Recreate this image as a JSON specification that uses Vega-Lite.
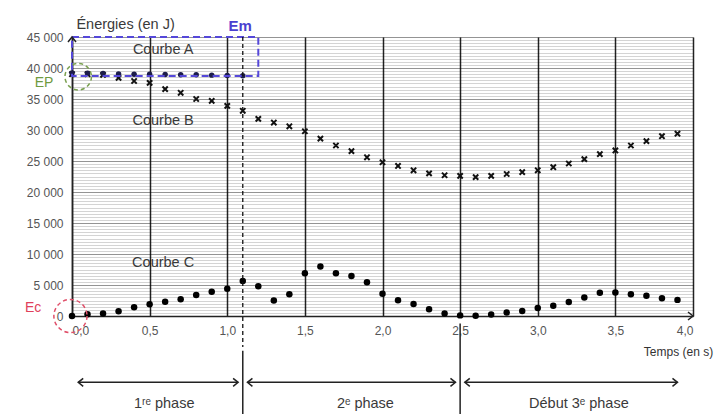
{
"$schema": "https://vega.github.io/schema/vega-lite/v6.json",
"width": 621, "height": 279,
"autosize": {"type": "none"},
"padding": {"left": 72, "top": 37, "right": 29, "bottom": 98},
"background": "white",
"config": {"view": {"stroke": null}, "font": "Liberation Sans", "text": {"font": "Liberation Sans"}},
"datasets": {
"A": [{"t":0,"v":39200},{"t":0.1,"v":39150},{"t":0.2,"v":39100},{"t":0.3,"v":39050},{"t":0.4,"v":39000},{"t":0.5,"v":39000},{"t":0.6,"v":38950},{"t":0.7,"v":38900},{"t":0.8,"v":38900},{"t":0.9,"v":38850},{"t":1.0,"v":38800},{"t":1.1,"v":38750}],
"B": [{"t":0,"v":39000},{"t":0.1,"v":39000},{"t":0.2,"v":38900},{"t":0.3,"v":38400},{"t":0.4,"v":37900},{"t":0.5,"v":37600},{"t":0.6,"v":36600},{"t":0.7,"v":36000},{"t":0.8,"v":35000},{"t":0.9,"v":34700},{"t":1.0,"v":33900},{"t":1.1,"v":33100},{"t":1.2,"v":31800},{"t":1.3,"v":31200},{"t":1.4,"v":30600},{"t":1.5,"v":29800},{"t":1.6,"v":28600},{"t":1.7,"v":27500},{"t":1.8,"v":26600},{"t":1.9,"v":25600},{"t":2.0,"v":24800},{"t":2.1,"v":24200},{"t":2.2,"v":23500},{"t":2.3,"v":23000},{"t":2.4,"v":22700},{"t":2.5,"v":22600},{"t":2.6,"v":22400},{"t":2.7,"v":22600},{"t":2.8,"v":22900},{"t":2.9,"v":23200},{"t":3.0,"v":23500},{"t":3.1,"v":24000},{"t":3.2,"v":24600},{"t":3.3,"v":25300},{"t":3.4,"v":26100},{"t":3.5,"v":26700},{"t":3.6,"v":27500},{"t":3.7,"v":28200},{"t":3.8,"v":29000},{"t":3.9,"v":29400}],
"C": [{"t":0,"v":0},{"t":0.1,"v":300},{"t":0.2,"v":400},{"t":0.3,"v":750},{"t":0.4,"v":1400},{"t":0.5,"v":1900},{"t":0.6,"v":2300},{"t":0.7,"v":2700},{"t":0.8,"v":3400},{"t":0.9,"v":3900},{"t":1.0,"v":4400},{"t":1.1,"v":5650},{"t":1.2,"v":4800},{"t":1.3,"v":2500},{"t":1.4,"v":3500},{"t":1.5,"v":6900},{"t":1.6,"v":8000},{"t":1.7,"v":6900},{"t":1.8,"v":6450},{"t":1.9,"v":5450},{"t":2.0,"v":3600},{"t":2.1,"v":2550},{"t":2.2,"v":1950},{"t":2.3,"v":1100},{"t":2.4,"v":400},{"t":2.5,"v":100},{"t":2.6,"v":50},{"t":2.7,"v":250},{"t":2.8,"v":550},{"t":2.9,"v":800},{"t":3.0,"v":1300},{"t":3.1,"v":1650},{"t":3.2,"v":2250},{"t":3.3,"v":3000},{"t":3.4,"v":3750},{"t":3.5,"v":3800},{"t":3.6,"v":3500},{"t":3.7,"v":3250},{"t":3.8,"v":2850},{"t":3.9,"v":2600}]
},
"resolve": {"axis": {"x": "independent", "y": "independent"}},
"layer": [
{
"data": {"name": "C"},
"mark": {"type": "point", "opacity": 0},
"encoding": {
"x": {"field": "t", "type": "quantitative", "scale": {"domain": [0, 4], "nice": false, "zero": false}, "axis": null},
"y": {"field": "v", "type": "quantitative", "scale": {"domain": [0, 45000], "nice": false}, "axis": {"orient": "right", "title": null, "labels": false, "ticks": false, "domain": false, "grid": true, "gridColor": "#000", "gridOpacity": 0.17, "gridWidth": 1, "values": [500,1000,1500,2000,2500,3000,3500,4000,4500,5500,6000,6500,7000,7500,8000,8500,9000,9500,10500,11000,11500,12000,12500,13000,13500,14000,14500,15500,16000,16500,17000,17500,18000,18500,19000,19500,20500,21000,21500,22000,22500,23000,23500,24000,24500,25500,26000,26500,27000,27500,28000,28500,29000,29500,30500,31000,31500,32000,32500,33000,33500,34000,34500,35500,36000,36500,37000,37500,38000,38500,39000,39500,40500,41000,41500,42000,42500,43000,43500,44000,44500]}}
}
},
{
"data": {"name": "B"},
"mark": {"type": "point", "shape": "M-1,-1L1,1M-1,1L1,-1", "filled": false, "stroke": "#111", "strokeWidth": 2, "size": 28, "opacity": 1},
"encoding": {
"x": {"field": "t", "type": "quantitative", "axis": {"orient": "bottom", "title": null, "values": [0,0.5,1,1.5,2,2.5,3,3.5,4], "labelExpr": "replace(format(datum.value, '.1f'), '.', ',')", "labelFont": "Liberation Sans", "labelFontSize": 12, "labelColor": "#555", "labelPadding": 9, "ticks": false, "domain": true, "domainColor": "#222", "domainWidth": 1.5, "grid": true, "gridColor": "#222", "gridWidth": 1.5}},
"y": {"field": "v", "type": "quantitative", "axis": {"orient": "left", "title": null, "values": [0,5000,10000,15000,20000,25000,30000,35000,40000,45000], "labelExpr": "replace(format(datum.value, ','), ',', ' ')", "labelFont": "Liberation Sans", "labelFontSize": 12, "labelColor": "#555", "labelPadding": 9, "ticks": false, "domain": true, "domainColor": "#222", "domainWidth": 1.5, "grid": true, "gridColor": "#000", "gridOpacity": 0.42, "gridWidth": 1}}
}
},
{
"data": {"name": "A"},
"mark": {"type": "circle", "color": "#1c1c4a", "size": 30, "opacity": 1},
"encoding": {"x": {"field": "t", "type": "quantitative", "axis": null}, "y": {"field": "v", "type": "quantitative", "axis": null}}
},
{
"data": {"name": "C"},
"mark": {"type": "circle", "color": "#000", "size": 42, "opacity": 1},
"encoding": {"x": {"field": "t", "type": "quantitative", "axis": null}, "y": {"field": "v", "type": "quantitative", "axis": null}}
},
{
"data": {"values": [{"t1": 0, "t2": 1.2, "v1": 38700, "v2": 45000}]},
"mark": {"type": "rect", "fillOpacity": 0, "stroke": "#5548d9", "strokeWidth": 2, "strokeDash": [7, 4]},
"encoding": {"x": {"field": "t1", "type": "quantitative", "axis": null}, "x2": {"field": "t2"}, "y": {"field": "v1", "type": "quantitative", "axis": null}, "y2": {"field": "v2"}}
},
{
"data": {"values": [{"t": 1.1, "v1": 45000, "v2": -5000}]},
"mark": {"type": "rule", "color": "#111", "strokeWidth": 1.3, "strokeDash": [4, 3]},
"encoding": {"x": {"field": "t", "type": "quantitative", "axis": null}, "y": {"field": "v1", "type": "quantitative", "axis": null}, "y2": {"field": "v2"}}
},
{
"data": {"values": [{"t": 1.1, "v1": -5600, "v2": -17000}, {"t": 2.5, "v1": -1200, "v2": -17000}]},
"mark": {"type": "rule", "color": "#222", "strokeWidth": 1.5},
"encoding": {"x": {"field": "t", "type": "quantitative", "axis": null}, "y": {"field": "v1", "type": "quantitative", "axis": null}, "y2": {"field": "v2"}}
},
{
"data": {"values": [{"t1": 0.04, "t2": 1.07, "v": -10700}, {"t1": 1.13, "t2": 2.47, "v": -10700}, {"t1": 2.53, "t2": 3.9, "v": -10700}]},
"mark": {"type": "rule", "color": "#222", "strokeWidth": 1.5},
"encoding": {"x": {"field": "t1", "type": "quantitative", "axis": null}, "x2": {"field": "t2"}, "y": {"field": "v", "type": "quantitative", "axis": null}}
},
{
"data": {"values": [{"t": 0.04, "v": -10700}, {"t": 1.13, "v": -10700}, {"t": 2.53, "v": -10700}]},
"mark": {"type": "point", "shape": "M1,-0.8L0,0L1,0.8", "filled": false, "stroke": "#222", "strokeWidth": 1.5, "size": 100, "opacity": 1},
"encoding": {"x": {"field": "t", "type": "quantitative", "axis": null}, "y": {"field": "v", "type": "quantitative", "axis": null}}
},
{
"data": {"values": [{"t": 1.07, "v": -10700}, {"t": 2.47, "v": -10700}, {"t": 3.9, "v": -10700}, {"t": 4.0, "v": 0}]},
"mark": {"type": "point", "shape": "M-1,-0.8L0,0L-1,0.8", "filled": false, "stroke": "#222", "strokeWidth": 1.5, "size": 100, "opacity": 1},
"encoding": {"x": {"field": "t", "type": "quantitative", "axis": null}, "y": {"field": "v", "type": "quantitative", "axis": null}}
},
{
"data": {"values": [{"t": 0, "v": 45000}]},
"mark": {"type": "point", "shape": "M-0.8,1L0,0L0.8,1", "filled": false, "stroke": "#222", "strokeWidth": 1.5, "size": 100, "opacity": 1},
"encoding": {"x": {"field": "t", "type": "quantitative", "axis": null}, "y": {"field": "v", "type": "quantitative", "axis": null}}
},
{
"data": {"values": [{"t": 0.04, "v": 38600}]},
"mark": {"type": "point", "shape": "circle", "filled": false, "stroke": "#7aa050", "strokeWidth": 1.5, "strokeDash": [4, 3], "size": 700, "opacity": 1},
"encoding": {"x": {"field": "t", "type": "quantitative", "axis": null}, "y": {"field": "v", "type": "quantitative", "axis": null}}
},
{
"data": {"values": [{"t": -0.01, "v": 0}]},
"mark": {"type": "point", "shape": "circle", "filled": false, "stroke": "#e0506a", "strokeWidth": 1.5, "strokeDash": [4, 3], "size": 1100, "opacity": 1},
"encoding": {"x": {"field": "t", "type": "quantitative", "axis": null}, "y": {"field": "v", "type": "quantitative", "axis": null}}
},
{
"data": {"values": [{"t": 0.345, "v": 46900, "label": "Énergies (en J)"}, {"t": 0.587, "v": 42900, "label": "Courbe A"}, {"t": 0.587, "v": 31400, "label": "Courbe B"}, {"t": 0.587, "v": 8500, "label": "Courbe C"}, {"t": 0.594, "v": -14200, "label": "1ʳᵉ phase"}, {"t": 1.89, "v": -14200, "label": "2ᵉ phase"}, {"t": 3.265, "v": -14200, "label": "Début 3ᵉ phase"}]},
"mark": {"type": "text", "fontSize": 14.5, "color": "#3a3a3a", "align": "center", "baseline": "middle"},
"encoding": {"x": {"field": "t", "type": "quantitative", "axis": null}, "y": {"field": "v", "type": "quantitative", "axis": null}, "text": {"field": "label"}}
},
{
"data": {"values": [{"t": 4.13, "v": -5800, "label": "Temps (en s)"}]},
"mark": {"type": "text", "fontSize": 12, "color": "#333", "align": "right", "baseline": "middle"},
"encoding": {"x": {"field": "t", "type": "quantitative", "axis": null}, "y": {"field": "v", "type": "quantitative", "axis": null}, "text": {"field": "label"}}
},
{
"data": {"values": [{"t": 1.084, "v": 46700, "label": "Em"}]},
"mark": {"type": "text", "fontSize": 15, "fontWeight": "bold", "color": "#4a3fd0", "align": "center", "baseline": "middle"},
"encoding": {"x": {"field": "t", "type": "quantitative", "axis": null}, "y": {"field": "v", "type": "quantitative", "axis": null}, "text": {"field": "label"}}
},
{
"data": {"values": [{"t": -0.18, "v": 37600, "label": "EP"}]},
"mark": {"type": "text", "fontSize": 14, "color": "#6f9a40", "align": "center", "baseline": "middle"},
"encoding": {"x": {"field": "t", "type": "quantitative", "axis": null}, "y": {"field": "v", "type": "quantitative", "axis": null}, "text": {"field": "label"}}
},
{
"data": {"values": [{"t": -0.25, "v": 1300, "label": "Ec"}]},
"mark": {"type": "text", "fontSize": 14, "color": "#e0405a", "align": "center", "baseline": "middle"},
"encoding": {"x": {"field": "t", "type": "quantitative", "axis": null}, "y": {"field": "v", "type": "quantitative", "axis": null}, "text": {"field": "label"}}
}
]
}
